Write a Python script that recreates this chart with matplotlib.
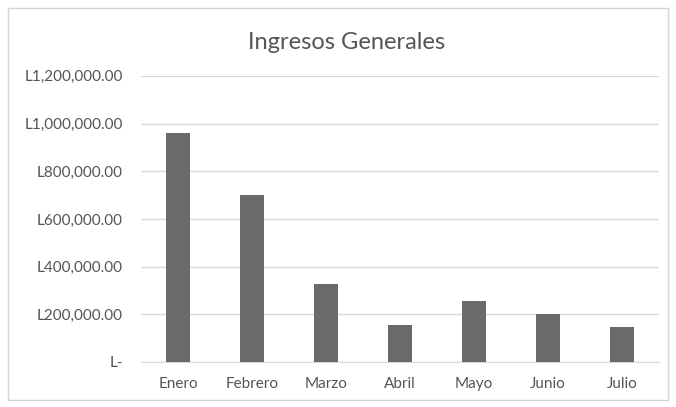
import matplotlib.pyplot as plt
from matplotlib.ticker import FuncFormatter
from matplotlib.patches import Rectangle

# datos
meses = ['Enero', 'Febrero', 'Marzo', 'Abril', 'Mayo', 'Junio', 'Julio']
ingresos = [960000, 700000, 325000, 155000, 255000, 200000, 145000]
ticks_y = [0, 200000, 400000, 600000, 800000, 1000000, 1200000]

plt.rcParams['font.family'] = ['Lato', 'DejaVu Sans']

fig = plt.figure(figsize=(6.76, 4.07), dpi=100)
fig.patch.set_facecolor('white')

# borde del area del grafico
fig.patches.append(Rectangle((0.012, 0.018), 0.976, 0.962, transform=fig.transFigure,
                             fill=False, edgecolor='#d4d4d4', linewidth=1))

ax = fig.add_axes([0.2086, 0.1106, 0.766, 0.703])
ax.bar(range(len(meses)), ingresos, width=0.33, color='#6a6a6a', zorder=3)

ax.set_xlim(-0.5, len(meses) - 0.5)
ax.set_ylim(0, 1200000)
ax.set_yticks(ticks_y)


def fmt(v, pos):
    if v == 0:
        return 'L-'
    return 'L{:,.2f}'.format(v)


ax.yaxis.set_major_formatter(FuncFormatter(fmt))
ax.set_xticks(range(len(meses)))
ax.set_xticklabels(meses)

ax.grid(axis='y', color='#d9d9d9', linewidth=1, zorder=0)
for s in ['top', 'right', 'left']:
    ax.spines[s].set_visible(False)
ax.spines['bottom'].set_color('#d9d9d9')
ax.tick_params(axis='both', length=0, labelsize=11, colors='#555555')
ax.tick_params(axis='y', pad=13)
ax.tick_params(axis='x', pad=11)

fig.text(0.512, 0.895, 'Ingresos Generales', ha='center', va='center',
         fontsize=17, color='#555555')

fig.savefig('out.png', dpi=100)
